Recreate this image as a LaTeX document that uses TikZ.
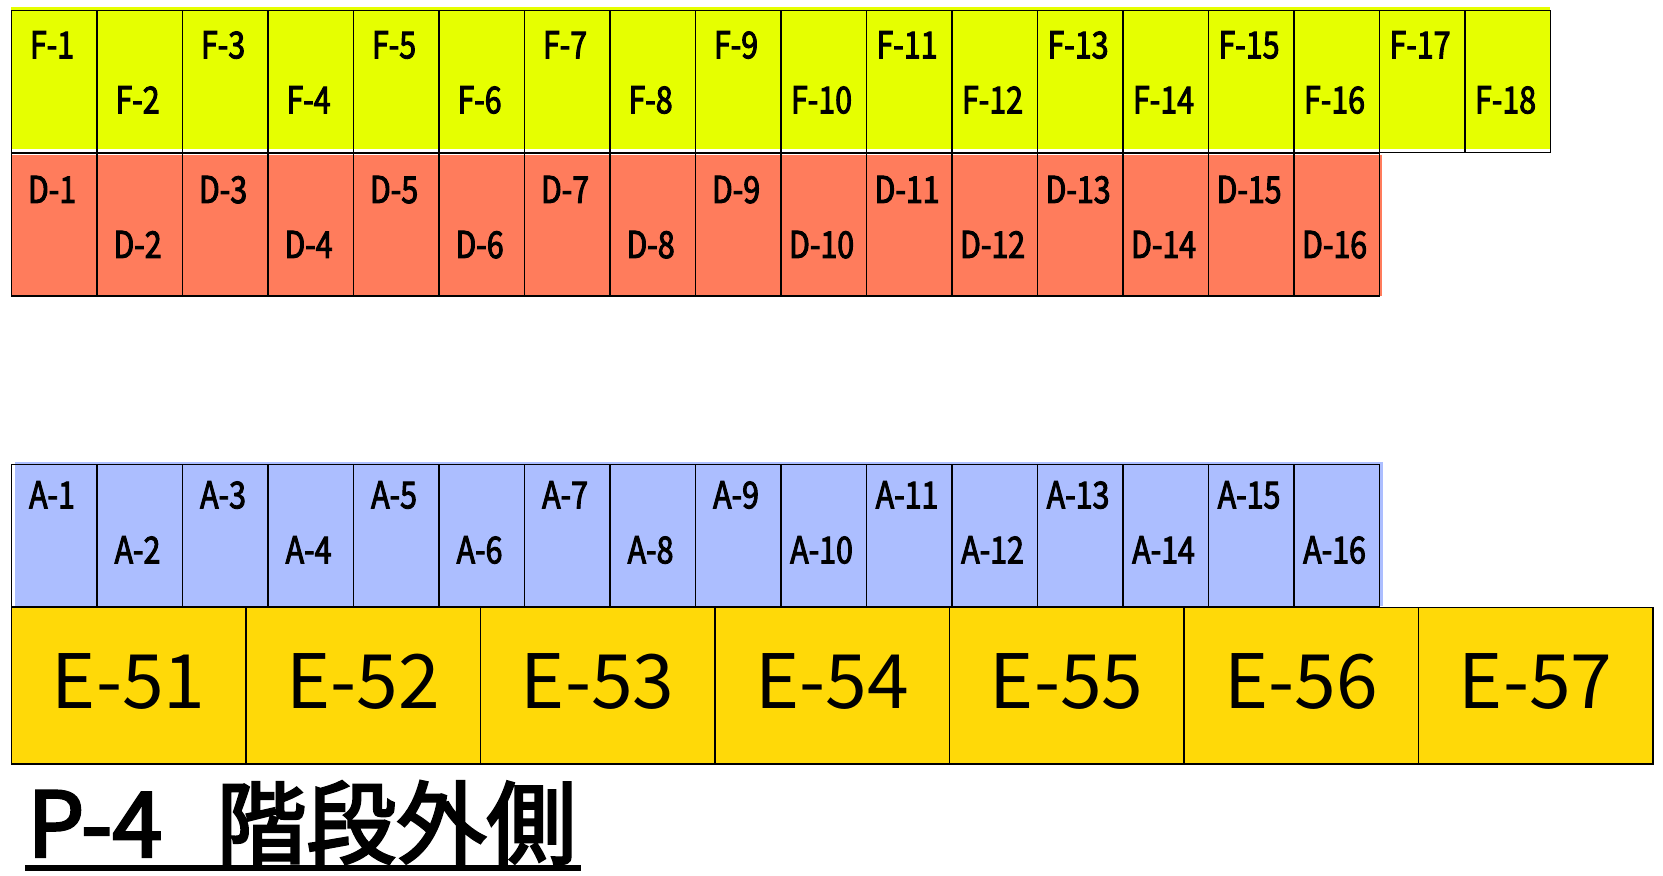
\documentclass[tikz,border=0pt]{standalone}
\usepackage{fontspec}
\setmainfont{Noto Sans CJK JP}
\newfontfamily\labfont[FakeStretch=0.82,FakeBold=2.6]{Noto Sans CJK JP}
\newfontfamily\titfont[FakeBold=3]{Noto Sans CJK JP}
\definecolor{fyel}{RGB}{230,255,0}
\definecolor{dred}{RGB}{255,124,92}
\definecolor{ablu}{RGB}{172,190,255}
\definecolor{eyel}{RGB}{255,217,8}
\begin{document}
\begin{tikzpicture}[x=0.5pt,y=-0.5pt,
  cell/.style={draw=black,line width=0.75pt,inner sep=0pt,minimum width=42.75pt},
  ecell/.style={draw=black,line width=0.75pt,inner sep=0pt,minimum width=117.25pt,minimum height=78.15pt},
  lab/.style={anchor=base,inner sep=0pt,font=\labfont\fontsize{18.5pt}{18.5pt}\selectfont},
  elab/.style={anchor=base,inner sep=0pt,font=\fontsize{37.5pt}{37.5pt}\selectfont},
  tlab/.style={anchor=base west,inner sep=0pt,font=\titfont\fontsize{45pt}{45pt}\selectfont}]
\useasboundingbox (0,0) rectangle (1663,876);
% row fills
\fill[fyel] (11.3,6.8) rectangle (1549.5,149.3);
\fill[dred] (11.3,155) rectangle (1381.7,296);
\fill[ablu] (15,462) rectangle (1383.3,606);
\fill[eyel] (11.3,607.7) rectangle (1652.7,764);
% F row
\foreach \i in {1,...,18} {
  \pgfmathsetmacro\cx{11.3+(\i-0.5)*85.5}
  \pgfmathsetmacro\by{ifthenelse(mod(\i,2)==1,58.3,113.3)}
  \node[cell,minimum height=71.2pt] (F\i) at (\cx,81.5) {};
  \node[lab] (Ft\i) at (\cx-2,\by) {F-\i};
}
% D row
\foreach \i in {1,...,16} {
  \pgfmathsetmacro\cx{11.3+(\i-0.5)*85.5}
  \pgfmathsetmacro\by{ifthenelse(mod(\i,2)==1,203,258)}
  \node[cell,minimum height=71.35pt] (D\i) at (\cx,224.65) {};
  \node[lab] (Dt\i) at (\cx-2,\by) {D-\i};
}
% A row
\foreach \i in {1,...,16} {
  \pgfmathsetmacro\cx{11.3+(\i-0.5)*85.5}
  \pgfmathsetmacro\by{ifthenelse(mod(\i,2)==1,508.3,563.3)}
  \node[cell,minimum height=71.2pt] (A\i) at (\cx,535.5) {};
  \node[lab] (At\i) at (\cx-2,\by) {A-\i};
}
% E row
\foreach \j [evaluate=\j as \n using int(50+\j)] in {1,...,7} {
  \pgfmathsetmacro\cx{11.3+(\j-0.5)*234.5}
  \node[ecell] (E\n) at (\cx,685.85) {};
  \node[elab] (Et\n) at (\cx,708) {E-\n};
}
% title
\node[tlab] (title) at (27,856.7) {\makebox[94.5pt][l]{P-4 }階段外側};
\draw[line width=3pt] ([xshift=-1pt,yshift=-5.7pt]title.base west) -- ([xshift=2pt,yshift=-5.7pt]title.base east);
\end{tikzpicture}
\end{document}
